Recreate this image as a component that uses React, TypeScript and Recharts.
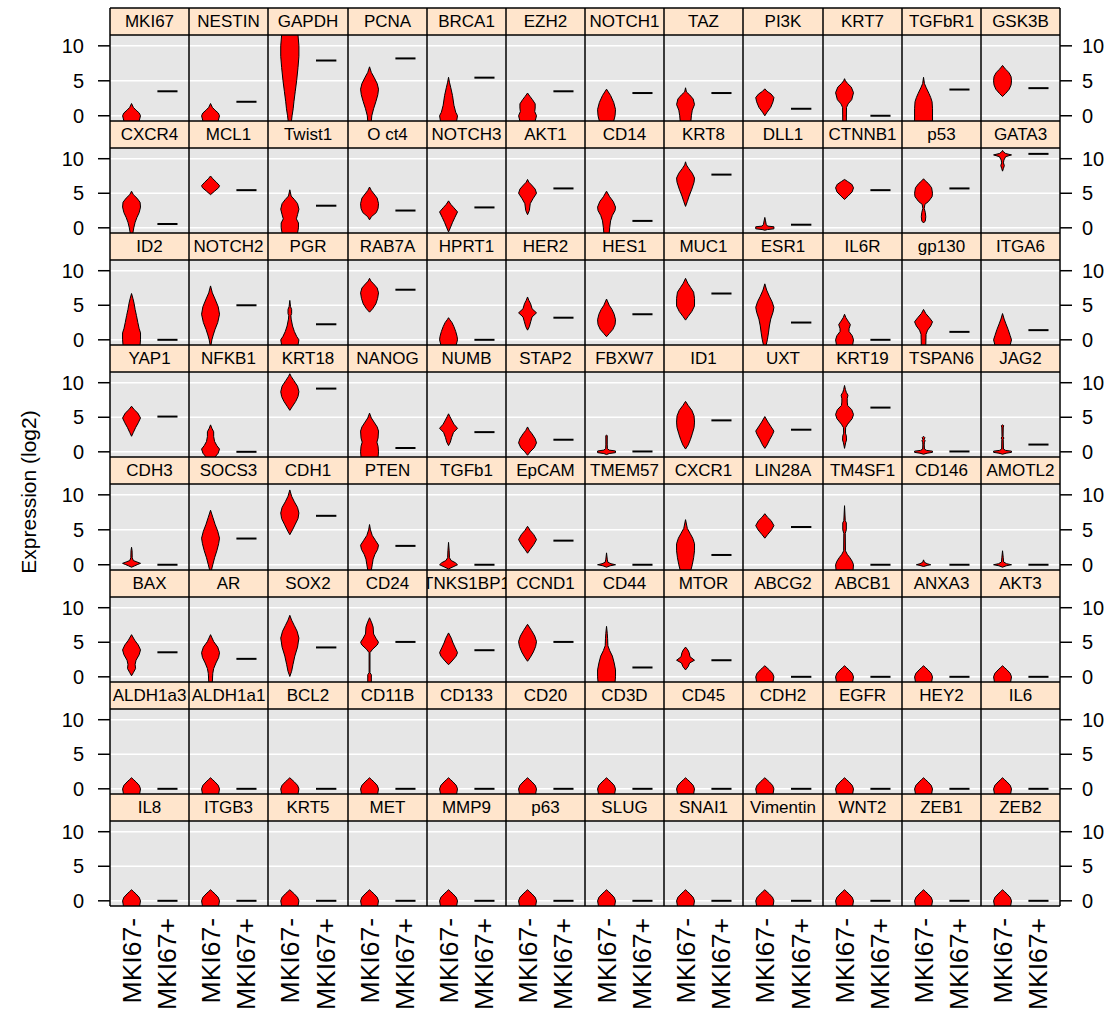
import { ComposedChart, Area, Line, XAxis, YAxis, CartesianGrid } from "recharts";

type Profile = [number, number][];

const FONT = '"Liberation Sans", Arial, sans-serif';

const genes = [
  "MKI67", "NESTIN", "GAPDH", "PCNA", "BRCA1", "EZH2", "NOTCH1", "TAZ", "PI3K", "KRT7", "TGFbR1", "GSK3B",
  "CXCR4", "MCL1", "Twist1", "O ct4", "NOTCH3", "AKT1", "CD14", "KRT8", "DLL1", "CTNNB1", "p53", "GATA3",
  "ID2", "NOTCH2", "PGR", "RAB7A", "HPRT1", "HER2", "HES1", "MUC1", "ESR1", "IL6R", "gp130", "ITGA6",
  "YAP1", "NFKB1", "KRT18", "NANOG", "NUMB", "STAP2", "FBXW7", "ID1", "UXT", "KRT19", "TSPAN6", "JAG2",
  "CDH3", "SOCS3", "CDH1", "PTEN", "TGFb1", "EpCAM", "TMEM57", "CXCR1", "LIN28A", "TM4SF1", "CD146", "AMOTL2",
  "BAX", "AR", "SOX2", "CD24", "TNKS1BP1", "CCND1", "CD44", "MTOR", "ABCG2", "ABCB1", "ANXA3", "AKT3",
  "ALDH1a3", "ALDH1a1", "BCL2", "CD11B", "CD133", "CD20", "CD3D", "CD45", "CDH2", "EGFR", "HEY2", "IL6",
  "IL8", "ITGB3", "KRT5", "MET", "MMP9", "p63", "SLUG", "SNAI1", "Vimentin", "WNT2", "ZEB1", "ZEB2",
];

const groupLabels = ["MKI67-", "MKI67+"];
const yTicks = [0, 5, 10];

// MKI67+ group: a single cell per gene
const posValues = [
  3.5, 2.0, 7.9, 8.2, 5.45, 3.5, 3.25, 3.25, 1.0, 0, 3.75, 3.95,
  0.55, 5.45, 3.2, 2.5, 2.95, 5.7, 1.0, 7.7, 0.45, 5.45, 5.7, 10.7,
  0, 5.0, 2.25, 7.25, 0, 3.2, 3.7, 6.7, 2.5, 0, 1.15, 1.4,
  5.1, 0, 9.15, 0.55, 2.85, 1.75, 0.05, 4.55, 3.2, 6.4, 0.05, 1.05,
  0, 3.75, 7.0, 2.7, 0, 3.45, 0, 1.4, 5.4, 0, 0, 0,
  3.55, 2.6, 4.25, 5.05, 3.85, 5.05, 1.35, 2.4, 0, 0, 0, 0,
  0, 0, 0, 0, 0, 0, 0, 0, 0, 0, 0, 0,
  0, 0, 0, 0, 0, 0, 0, 0, 0, 0, 0, 0,
];

// MKI67- violins: [expression, relative half width]
const blob: Profile = [[-0.75, 0.9], [0, 1], [0.5, 0.85], [1, 0.5], [1.3, 0.25], [1.6, 0]];

const violins: Profile[] = [
  [[-0.75, 0.85], [0, 1], [0.4, 0.85], [0.8, 0.5], [1.2, 0.2], [1.75, 0]],
  [[-0.75, 0.85], [0, 1], [0.4, 0.85], [0.8, 0.5], [1.2, 0.2], [1.75, 0]],
  [[-0.75, 0.18], [0, 0.25], [1, 0.37], [2, 0.45], [3.5, 0.6], [5, 0.75], [6.9, 0.9], [8.5, 1], [10, 1], [11.55, 0.9]],
  [[-0.75, 0.2], [0, 0.25], [1, 0.45], [2, 0.7], [3, 0.92], [3.8, 1], [4.6, 0.85], [5.5, 0.5], [6.2, 0.2], [7, 0]],
  [[-0.75, 0.9], [0, 1], [0.5, 0.8], [1.5, 0.6], [2.9, 0.44], [4, 0.25], [4.8, 0.1], [5.5, 0]],
  [[-0.75, 0.85], [0, 1], [0.6, 0.8], [1.1, 0.85], [1.7, 0.85], [2.3, 0.55], [2.8, 0.25], [3.25, 0]],
  [[-0.75, 0.8], [0, 0.95], [0.9, 1], [1.9, 0.8], [2.9, 0.45], [3.4, 0.2], [3.8, 0]],
  [[-0.75, 0.6], [0, 0.65], [0.8, 0.75], [1.6, 1], [2.4, 0.85], [3, 0.45], [3.4, 0.1], [4, 0]],
  [[0, 0], [0.5, 0.25], [1.2, 0.65], [2, 0.9], [2.6, 1], [3.1, 0.7], [3.5, 0.25], [3.85, 0]],
  [[-0.75, 0.2], [1.2, 0.22], [1.7, 0.4], [2.3, 0.8], [3.3, 1], [4.1, 0.75], [4.6, 0.35], [5, 0.1], [5.3, 0]],
  [[-0.75, 1], [1, 1], [2, 0.95], [2.6, 0.8], [3.2, 0.6], [4, 0.3], [4.6, 0.1], [5.5, 0]],
  [[2.75, 0], [3.2, 0.35], [3.8, 0.75], [4.4, 0.95], [5, 1], [5.6, 0.95], [6.2, 0.7], [6.7, 0.3], [7.2, 0]],

  [[-0.75, 0.15], [0, 0.25], [0.8, 0.4], [1.5, 0.6], [2.2, 0.85], [3, 1], [3.7, 0.95], [4.3, 0.6], [4.8, 0.2], [5.3, 0]],
  [[4.8, 0], [5.3, 0.45], [5.8, 0.9], [6.1, 1], [6.6, 0.65], [7.1, 0.25], [7.5, 0]],
  [[-0.75, 0.85], [0, 0.95], [0.7, 0.95], [1.3, 0.72], [1.9, 0.85], [2.7, 1], [3.5, 0.85], [4.1, 0.5], [4.6, 0.15], [5.5, 0]],
  [[1.15, 0], [1.6, 0.2], [2.2, 0.75], [2.8, 0.95], [3.5, 1], [4.3, 0.85], [4.9, 0.5], [5.4, 0.2], [5.9, 0]],
  [[-0.6, 0], [0, 0.2], [0.8, 0.45], [1.5, 0.7], [2.3, 1], [2.9, 0.6], [3.4, 0.25], [3.9, 0]],
  [[1.9, 0], [2.5, 0.2], [3.5, 0.3], [4.2, 0.6], [5, 1], [5.6, 0.85], [6.2, 0.45], [6.6, 0.15], [7, 0]],
  [[-0.75, 0.3], [0, 0.35], [1, 0.45], [1.8, 0.65], [2.5, 0.95], [3, 1], [3.8, 0.75], [4.5, 0.35], [5.3, 0]],
  [[3.1, 0], [3.8, 0.2], [4.6, 0.4], [5.6, 0.7], [6.6, 0.95], [7.2, 1], [7.9, 0.75], [8.6, 0.35], [9.1, 0.1], [9.55, 0]],
  [[-0.35, 0], [-0.25, 0.3], [-0.15, 1], [0.15, 1], [0.25, 0.3], [0.5, 0.15], [1, 0.08], [1.5, 0]],
  [[4.1, 0], [4.6, 0.4], [5.2, 0.85], [5.8, 1], [6.3, 0.8], [6.7, 0.35], [7, 0]],
  [[0.7, 0], [1, 0.2], [1.6, 0.25], [2.2, 0.2], [2.8, 0.08], [3.4, 0.15], [3.8, 0.55], [4.5, 0.95], [5, 1], [5.8, 0.9], [6.4, 0.55], [6.8, 0.2], [7.1, 0]],
  [[8.2, 0], [8.6, 0.1], [9, 0.2], [9.4, 0.1], [9.8, 0.15], [10.3, 0.35], [10.55, 1], [10.75, 0.35], [11, 0.1], [11.2, 0]],

  [[-0.75, 0.95], [0, 1], [1, 1], [1.6, 0.85], [2.5, 0.7], [3.5, 0.55], [4.4, 0.4], [5.3, 0.28], [6, 0.15], [6.7, 0]],
  [[-0.75, 0.05], [0, 0.15], [0.7, 0.3], [1.5, 0.5], [2.5, 0.8], [3.7, 1], [4.8, 0.85], [5.9, 0.5], [6.8, 0.2], [7.8, 0]],
  [[-0.75, 0.9], [0, 1], [0.5, 0.75], [1.2, 0.5], [2, 0.3], [3, 0.15], [3.5, 0.12], [3.8, 0.2], [4.4, 0.2], [4.8, 0.08], [5.7, 0]],
  [[4, 0], [4.5, 0.35], [5.2, 0.7], [6, 0.9], [6.8, 1], [7.5, 0.85], [8.1, 0.45], [8.5, 0.15], [8.9, 0]],
  [[-0.75, 0.85], [0, 1], [0.5, 0.95], [1.2, 0.8], [1.9, 0.6], [2.5, 0.38], [2.9, 0.15], [3.2, 0]],
  [[1.4, 0], [1.9, 0.2], [2.6, 0.35], [3.3, 0.5], [3.9, 1], [4.5, 0.5], [5.2, 0.35], [5.7, 0.15], [6.2, 0]],
  [[0.45, 0], [0.9, 0.3], [1.5, 0.7], [2.2, 0.95], [2.9, 1], [3.7, 0.85], [4.4, 0.6], [5, 0.3], [5.9, 0]],
  [[2.85, 0], [3.4, 0.3], [4.1, 0.7], [4.9, 1], [6, 1], [6.9, 0.9], [7.6, 0.55], [8.2, 0.25], [8.9, 0]],
  [[-0.75, 0.15], [0, 0.28], [1, 0.4], [2, 0.5], [3, 0.65], [4, 0.9], [4.7, 1], [5.5, 0.8], [6.3, 0.5], [7.2, 0.2], [8.1, 0]],
  [[-0.75, 0.9], [0, 1], [0.6, 0.85], [1.2, 0.5], [1.6, 0.5], [2.2, 0.65], [2.7, 0.4], [3.2, 0.15], [3.7, 0]],
  [[-0.75, 0.25], [0.8, 0.28], [1.4, 0.45], [2, 0.8], [2.6, 1], [3.2, 0.65], [3.8, 0.25], [4.4, 0]],
  [[-0.75, 0.85], [0, 1], [0.6, 0.85], [1.5, 0.62], [2.3, 0.38], [3, 0.18], [3.8, 0]],

  [[2.25, 0], [2.8, 0.2], [3.5, 0.45], [4.2, 0.75], [4.9, 1], [5.6, 0.7], [6.1, 0.3], [6.6, 0]],
  [[-0.75, 0.5], [-0.2, 0.85], [0.4, 1], [0.9, 0.7], [1.5, 0.45], [2.2, 0.35], [2.9, 0.35], [3.4, 0.15], [3.9, 0]],
  [[6, 0], [6.6, 0.3], [7.3, 0.65], [8, 0.9], [8.7, 1], [9.5, 0.85], [10.3, 0.45], [10.9, 0.15], [11.3, 0]],
  [[-0.75, 0.95], [0, 1], [0.8, 0.95], [1.4, 0.82], [2, 0.95], [3, 1], [3.6, 0.85], [4.3, 0.5], [4.9, 0.2], [5.6, 0]],
  [[0.9, 0], [1.4, 0.2], [2.1, 0.35], [2.8, 0.55], [3.4, 1], [4, 0.6], [4.6, 0.35], [5.1, 0.15], [5.5, 0]],
  [[-0.5, 0], [0, 0.3], [0.6, 0.75], [1.3, 1], [1.9, 0.85], [2.6, 0.5], [3.1, 0.2], [3.6, 0]],
  [[-0.4, 0], [-0.25, 0.3], [-0.12, 1], [0.12, 1], [0.25, 0.3], [0.45, 0.1], [1, 0.08], [2.35, 0.08], [2.4, 0]],
  [[0.4, 0], [1, 0.3], [1.8, 0.55], [2.6, 0.75], [3.5, 0.95], [4.3, 1], [5.2, 0.95], [6, 0.7], [6.7, 0.3], [7.3, 0]],
  [[0.5, 0], [1, 0.25], [1.8, 0.55], [2.5, 0.85], [3, 1], [3.6, 0.7], [4.3, 0.35], [5.1, 0]],
  [[0.5, 0], [1.3, 0.12], [1.7, 0.22], [2.3, 0.2], [2.7, 0.1], [3.5, 0.12], [4, 0.35], [4.8, 0.85], [5.4, 1], [6.1, 0.8], [6.7, 0.35], [7.2, 0.3], [7.7, 0.3], [8.2, 0.38], [8.6, 0.2], [9, 0.1], [9.6, 0]],
  [[-0.35, 0], [-0.2, 0.4], [-0.08, 1], [0.1, 1], [0.2, 0.35], [0.4, 0.1], [1, 0.08], [1.4, 0.1], [1.6, 0.18], [1.8, 0.08], [2.05, 0.15], [2.25, 0]],
  [[-0.35, 0], [-0.2, 0.4], [-0.08, 1], [0.1, 1], [0.2, 0.35], [0.4, 0.1], [1.8, 0.08], [2, 0.15], [2.2, 0.06], [3.6, 0.08], [3.75, 0.15], [3.9, 0]],

  [[-0.35, 0], [-0.15, 0.35], [0.05, 0.7], [0.2, 1], [0.4, 0.6], [0.6, 0.2], [1, 0.08], [2, 0.06], [2.5, 0]],
  [[-0.75, 0.1], [0, 0.25], [1, 0.45], [2, 0.7], [3, 0.9], [3.8, 1], [4.8, 0.8], [5.8, 0.5], [6.8, 0.25], [7.8, 0]],
  [[4.3, 0], [5, 0.3], [5.8, 0.6], [6.6, 0.9], [7.4, 1], [8.2, 0.85], [9, 0.5], [9.8, 0.2], [10.7, 0]],
  [[-0.75, 0.2], [0, 0.3], [0.8, 0.4], [1.5, 0.6], [2.2, 0.9], [2.8, 1], [3.5, 0.65], [4.2, 0.3], [5, 0.1], [5.75, 0]],
  [[-0.6, 0], [-0.3, 0.5], [0, 1], [0.3, 0.75], [0.6, 0.3], [1, 0.1], [2, 0.07], [3.2, 0]],
  [[1.65, 0], [2.2, 0.3], [2.9, 0.7], [3.6, 1], [4.3, 0.7], [4.9, 0.3], [5.5, 0]],
  [[-0.35, 0], [-0.15, 0.4], [0, 1], [0.15, 0.5], [0.35, 0.15], [0.8, 0.08], [1.7, 0]],
  [[-0.75, 0.6], [0, 0.75], [1, 0.9], [2, 1], [3, 1], [3.8, 0.8], [4.5, 0.5], [5.2, 0.2], [6.45, 0]],
  [[3.8, 0], [4.3, 0.3], [5, 0.75], [5.6, 1], [6.3, 0.7], [6.8, 0.3], [7.3, 0]],
  [[-0.75, 0.95], [0, 1], [0.5, 0.85], [1, 0.6], [1.5, 0.3], [2, 0.1], [4.5, 0.08], [5, 0.2], [6, 0.2], [6.3, 0.08], [8.45, 0]],
  [[-0.25, 0], [-0.1, 0.4], [0, 0.8], [0.15, 0.4], [0.35, 0.1], [0.7, 0]],
  [[-0.35, 0], [-0.15, 0.4], [0, 1], [0.15, 0.45], [0.4, 0.12], [1, 0.08], [2, 0]],

  [[0.15, 0], [0.6, 0.2], [1.2, 0.45], [1.8, 0.4], [2.4, 0.5], [3.2, 0.85], [3.9, 1], [4.6, 0.75], [5.3, 0.35], [6.1, 0]],
  [[-0.75, 0.2], [0.5, 0.25], [1.2, 0.35], [2, 0.6], [2.8, 0.9], [3.5, 1], [4.3, 0.8], [5.1, 0.35], [6.1, 0]],
  [[0.05, 0], [0.8, 0.2], [1.8, 0.35], [3, 0.55], [4.3, 0.85], [5.6, 1], [6.6, 0.8], [7.4, 0.5], [8.2, 0.2], [8.9, 0]],
  [[-0.75, 0.2], [0.3, 0.2], [0.6, 0.05], [3.5, 0.05], [4, 0.35], [4.6, 0.85], [5, 1], [5.5, 0.75], [6.2, 0.45], [7.2, 0.4], [7.8, 0.25], [8.55, 0]],
  [[1.75, 0], [2.3, 0.4], [3, 0.85], [3.5, 1], [4.2, 0.75], [4.9, 0.5], [5.6, 0.3], [6.35, 0]],
  [[2.25, 0], [2.8, 0.3], [3.6, 0.65], [4.4, 0.9], [5.1, 1], [5.9, 0.8], [6.7, 0.45], [7.6, 0]],
  [[-0.75, 0.95], [0, 1], [1, 1], [2, 0.85], [3, 0.65], [3.8, 0.35], [4.5, 0.15], [5.5, 0.12], [6.3, 0.08], [7.3, 0]],
  [[1, 0], [1.5, 0.3], [2, 0.45], [2.4, 1], [2.9, 0.5], [3.5, 0.4], [3.9, 0.25], [4.3, 0]],
  blob, blob, blob, blob,

  blob, blob, blob, blob, blob, blob, blob, blob, blob, blob, blob, blob,
  blob, blob, blob, blob, blob, blob, blob, blob, blob, blob, blob, blob,
];

const COLS = 12;
const ROWS = 8;
const W = 1112;
const H = 1013;
const GRID_LEFT = 110;
const GRID_RIGHT = 1060;
const GRID_TOP = 8.2;
const GRID_BOTTOM = 906;
const ROW_PITCH = 112.3;
const STRIP_H = 27;
const HALF = 0.25; // max half width of a violin, in x units

const colX = Array.from({ length: COLS + 1 }, (_, c) =>
  Math.round(GRID_LEFT + (c * (GRID_RIGHT - GRID_LEFT)) / COLS)
);
const rowY = Array.from({ length: ROWS + 1 }, (_, r) =>
  r === ROWS ? GRID_BOTTOM : Math.round(GRID_TOP + r * ROW_PITCH)
);

function XTick(props: any) {
  const { x, y, payload } = props;
  return (
    <text
      x={x}
      y={y}
      transform={`rotate(-90 ${x} ${y})`}
      textAnchor="end"
      dominantBaseline="central"
      fontSize={26.5}
      fontFamily={FONT}
      fill="#000"
    >
      {groupLabels[payload.value - 1]}
    </text>
  );
}

function Panel({ index }: { index: number }) {
  const r = Math.floor(index / COLS);
  const c = index % COLS;
  const first = c === 0;
  const last = c === COLS - 1;
  const bottom = r === ROWS - 1;
  const leftW = first ? GRID_LEFT : 0;
  const rightW = last ? W - GRID_RIGHT : 0;
  const bottomH = bottom ? H - GRID_BOTTOM : 0;
  const panelTop = rowY[r] + STRIP_H;
  const panelH = rowY[r + 1] - panelTop;
  const width = colX[c + 1] - colX[c] + leftW + rightW;

  const violinData = violins[index].map(([y, w]) => ({ y, span: [1 - HALF * w, 1 + HALF * w] }));
  const posData = [
    { y: posValues[index], x: 1.72 },
    { y: posValues[index], x: 2.28 },
  ];

  return (
    <div style={{ position: "absolute", left: colX[c] - leftW, top: panelTop }}>
      <ComposedChart
        layout="vertical"
        width={width}
        height={panelH + bottomH}
        margin={{ top: 0, right: 0, bottom: 0, left: 0 }}
      >
        <CartesianGrid
          vertical={false}
          horizontalValues={yTicks}
          stroke="#fff"
          strokeWidth={1.5}
          fill="#E6E6E6"
          fillOpacity={1}
        />
        <XAxis
          type="number"
          domain={[0.4, 2.6]}
          allowDataOverflow
          hide={!bottom}
          ticks={[1, 2]}
          interval={0}
          height={bottomH || 30}
          axisLine={false}
          tickLine={false}
          tickSize={0}
          tickMargin={12}
          tick={(p: any) => <XTick {...p} />}
        />
        <YAxis
          type="number"
          dataKey="y"
          domain={[-0.75, 11.55]}
          allowDataOverflow
          reversed
          ticks={yTicks}
          interval={0}
          hide={!first && !last}
          orientation={last ? "right" : "left"}
          width={first ? leftW : rightW || 60}
          axisLine={false}
          tickSize={12}
          tickMargin={last ? 10 : 14}
          tickLine={{ stroke: "#000", strokeWidth: 1.5 }}
          tick={{ fontSize: 20, fill: "#000", fontFamily: FONT }}
        />
        <Area
          data={violinData}
          dataKey="span"
          type="linear"
          fill="#FF0000"
          fillOpacity={1}
          stroke="#000"
          strokeWidth={1}
          dot={false}
          activeDot={false}
          isAnimationActive={false}
        />
        <Line
          data={posData}
          dataKey="x"
          type="linear"
          stroke="#000"
          strokeWidth={2}
          dot={false}
          activeDot={false}
          isAnimationActive={false}
        />
      </ComposedChart>
    </div>
  );
}

export default function App() {
  return (
    <div
      style={{
        position: "absolute",
        left: 0,
        top: 0,
        width: W,
        height: H,
        background: "#fff",
        fontFamily: FONT,
        overflow: "hidden",
      }}
    >
      <style>{".recharts-surface{overflow:visible}.recharts-wrapper{overflow:visible}"}</style>
      {genes.map((g, i) => (
        <Panel key={g + i} index={i} />
      ))}

      {genes.map((g, i) => {
        const r = Math.floor(i / COLS);
        const c = i % COLS;
        return (
          <div
            key={"s" + i}
            style={{
              position: "absolute",
              left: colX[c],
              top: rowY[r],
              width: colX[c + 1] - colX[c],
              height: STRIP_H,
              background: "#FFE5CC",
              display: "flex",
              alignItems: "center",
              justifyContent: "center",
              overflow: "hidden",
              whiteSpace: "nowrap",
              fontSize: 17,
              color: "#000",
            }}
          >
            {g}
          </div>
        );
      })}

      <svg
        width={W}
        height={H}
        style={{ position: "absolute", left: 0, top: 0, pointerEvents: "none" }}
      >
        {colX.map((x, i) => (
          <line key={"v" + i} x1={x} x2={x} y1={rowY[0]} y2={GRID_BOTTOM} stroke="#000" strokeWidth={1.5} />
        ))}
        {rowY.map((y, i) => (
          <line key={"h" + i} x1={GRID_LEFT} x2={GRID_RIGHT} y1={y} y2={y} stroke="#000" strokeWidth={1.5} />
        ))}
        {rowY.slice(0, ROWS).map((y, i) => (
          <line
            key={"hs" + i}
            x1={GRID_LEFT}
            x2={GRID_RIGHT}
            y1={y + STRIP_H}
            y2={y + STRIP_H}
            stroke="#000"
            strokeWidth={1.5}
          />
        ))}
        <text
          x={28}
          y={492}
          transform="rotate(-90 28 492)"
          textAnchor="middle"
          dominantBaseline="central"
          fontSize={21}
          fontFamily={FONT}
          fill="#000"
        >
          Expression (log2)
        </text>
      </svg>
    </div>
  );
}
